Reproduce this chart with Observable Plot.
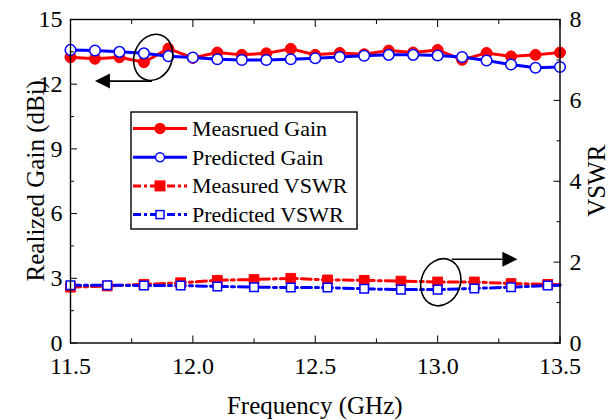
<!DOCTYPE html>
<html>
<head>
<meta charset="utf-8">
<script src="https://cdn.jsdelivr.net/npm/d3@7"></script>
<script src="https://cdn.jsdelivr.net/npm/@observablehq/plot@0.6"></script>
<style>
  body { margin: 0; background: #fff; }
  #chart svg { display: block; }
  #chart svg text { font-family: 'Liberation Serif', 'Times New Roman', serif; }
</style>
</head>
<body>
<div id="chart"></div>
<script>
// ---- data ----
const gainFreq = [11.5, 11.6, 11.7, 11.8, 11.9, 12.0, 12.1, 12.2, 12.3, 12.4, 12.5,
                  12.6, 12.7, 12.8, 12.9, 13.0, 13.1, 13.2, 13.3, 13.4, 13.5];
const measuredGain = [13.25, 13.18, 13.25, 13.02, 13.65, 13.22, 13.47, 13.36, 13.43, 13.64, 13.36,
                      13.45, 13.39, 13.56, 13.47, 13.59, 13.13, 13.45, 13.29, 13.36, 13.47];
const predictedGain = [13.59, 13.56, 13.5, 13.43, 13.3, 13.24, 13.16, 13.12, 13.12, 13.16, 13.2,
                       13.26, 13.32, 13.36, 13.36, 13.33, 13.26, 13.1, 12.91, 12.76, 12.8];

const vswrFreq = [11.5, 11.65, 11.8, 11.95, 12.1, 12.25, 12.4, 12.55, 12.7, 12.85, 13.0, 13.15, 13.3, 13.45, 13.5];
const measuredVSWR = [1.38, 1.41, 1.45, 1.49, 1.55, 1.57, 1.6, 1.56, 1.55, 1.53, 1.51, 1.51, 1.47, 1.45, 1.44];
const predictedVSWR = [1.43, 1.43, 1.42, 1.42, 1.40, 1.38, 1.37, 1.37, 1.34, 1.32, 1.32, 1.35, 1.38, 1.42, 1.43];
const vswrMarked = [true, true, true, true, true, true, true, true, true, true, true, true, true, true, false];

const xTicks = [11.5, 12.0, 12.5, 13.0, 13.5];
const xMinorTicks = [11.75, 12.25, 12.75, 13.25];
const gainTicks = [0, 3, 6, 9, 12, 15];
const gainMinorTicks = [1.5, 4.5, 7.5, 10.5, 13.5];
const vswrTicks = [0, 2, 4, 6, 8];
const vswrMinorTicks = [1, 3, 5, 7];

const seriesNames = ["Measrued Gain", "Predicted Gain", "Measured VSWR", "Predicted VSWR"];
const xTitle = "Frequency (GHz)";
const yTitle = "Realized Gain (dBi)";
const y2Title = "VSWR";

// annotation anchors (data units)
const ellipseGain = {x: 11.84, gain: 13.22};
const arrowGain = {x1: 11.835, x2: 11.602, gain: 12.12};
const ellipseVSWR = {x: 13.015, vswr: 1.49};
const arrowVSWR = {x1: 13.06, x2: 13.328, vswr: 2.06};

// ---- helpers ----
const gainMax = 15, vswrMax = 8;
const toGain = v => v * gainMax / vswrMax;
const RED = "#ff0000", BLUE = "#0000ff";

const gainRows = gainFreq.map((f, i) => ({f, m: measuredGain[i], p: predictedGain[i]}));
const vswrRows = vswrFreq.map((f, i) => ({f, m: toGain(measuredVSWR[i]), p: toGain(predictedVSWR[i]), mark: vswrMarked[i]}));
const vswrMarkedRows = vswrRows.filter(d => d.mark);

const FONT = "'Liberation Serif', 'Times New Roman', serif";
const blank = () => "";

const chart = Plot.plot({
  width: 609,
  height: 420,
  marginLeft: 70,
  marginRight: 49.5,
  marginTop: 19,
  marginBottom: 77.5,
  style: {fontFamily: FONT, fontSize: "24px", color: "#000", background: "#fff", overflow: "visible"},
  x: {domain: [11.5, 13.5]},
  y: {domain: [0, gainMax]},
  marks: [
    // VSWR lines
    Plot.line(vswrRows, {x: "f", y: "m", stroke: RED, strokeWidth: 3, strokeDasharray: "10,4,3,4"}),
    Plot.line(vswrRows, {x: "f", y: "p", stroke: BLUE, strokeWidth: 3, strokeDasharray: "10,4,3,4"}),
    Plot.dot(vswrMarkedRows, {x: "f", y: "m", symbol: "square", r: 5.5, fill: RED, stroke: RED, strokeWidth: 1}),
    Plot.dot(vswrMarkedRows, {x: "f", y: "p", symbol: "square", r: 4.8, fill: "#fff", stroke: BLUE, strokeWidth: 1.5}),
    // Gain lines
    Plot.line(gainRows, {x: "f", y: "m", stroke: RED, strokeWidth: 3}),
    Plot.line(gainRows, {x: "f", y: "p", stroke: BLUE, strokeWidth: 3}),
    Plot.dot(gainRows, {x: "f", y: "m", r: 5.5, fill: RED, stroke: RED, strokeWidth: 1}),
    Plot.dot(gainRows, {x: "f", y: "p", r: 5.3, fill: "#fff", stroke: BLUE, strokeWidth: 1.5}),
    // axes
    Plot.axisX(xTicks, {anchor: "bottom", tickSize: -7, tickPadding: 20.5, tickFormat: d3.format(".1f"), label: null, fontSize: 24, fontFamily: FONT}),
    Plot.axisX(xMinorTicks, {anchor: "bottom", tickSize: -4, tickFormat: blank, label: null}),
    Plot.axisX(xTicks, {anchor: "top", tickSize: -7, tickFormat: blank, label: null}),
    Plot.axisX(xMinorTicks, {anchor: "top", tickSize: -4, tickFormat: blank, label: null}),
    Plot.axisY(gainTicks, {anchor: "left", tickSize: -7, tickPadding: 15, tickFormat: d3.format("d"), label: null, fontSize: 24, fontFamily: FONT}),
    Plot.axisY(gainMinorTicks, {anchor: "left", tickSize: -4, tickFormat: blank, label: null}),
    Plot.axisY(vswrTicks.map(toGain), {anchor: "right", tickSize: -7, tickPadding: 16.5, tickFormat: d => d3.format("d")(Math.round(d * vswrMax / gainMax)), label: null, fontSize: 24, fontFamily: FONT}),
    Plot.axisY(vswrMinorTicks.map(toGain), {anchor: "right", tickSize: -4, tickFormat: blank, label: null}),
    Plot.frame({stroke: "#000", strokeWidth: 1.4})
  ]
});

document.getElementById("chart").appendChild(chart);

// ---- annotations, titles and legend drawn on top ----
const svg = d3.select(chart);
const sx = v => chart.scale("x").apply(v);
const sy = v => chart.scale("y").apply(v);
const W = 609, H = 420, mL = 70, mR = 49.5, mT = 19, mB = 77.5;
const cx = (mL + (W - mR)) / 2, cy = (mT + (H - mB)) / 2;

const ann = svg.append("g").attr("fill", "none").attr("stroke", "#000").attr("stroke-width", 1.6);
function ellipse(x, yGain, rx, ry, rot) {
  ann.append("ellipse")
    .attr("transform", `translate(${sx(x)},${sy(yGain)}) rotate(${rot})`)
    .attr("rx", rx).attr("ry", ry);
}
function arrow(x1, x2, yGain) {
  const y = sy(yGain), a = sx(x1), b = sx(x2);
  const dir = Math.sign(b - a);
  const head = 15, half = 7.5;
  ann.append("line").attr("x1", a).attr("x2", b - dir * head).attr("y1", y).attr("y2", y);
  ann.append("path")
    .attr("d", `M${b},${y}L${b - dir * head},${y - half}L${b - dir * head},${y + half}Z`)
    .attr("fill", "#000").attr("stroke", "none");
}
ellipse(ellipseGain.x, ellipseGain.gain, 19, 23.5, 20);
arrow(arrowGain.x1, arrowGain.x2, arrowGain.gain);
ellipse(ellipseVSWR.x, toGain(ellipseVSWR.vswr), 19.5, 24, 20);
arrow(arrowVSWR.x1, arrowVSWR.x2, toGain(arrowVSWR.vswr));

const titles = svg.append("g").attr("font-family", FONT).attr("font-size", 25).attr("fill", "#000").attr("text-anchor", "middle");
titles.append("text").attr("x", cx).attr("y", 414).text(xTitle);
titles.append("text").attr("transform", `translate(43.5,${cy}) rotate(-90)`).text(yTitle);
titles.append("text").attr("transform", `translate(605,${cy}) rotate(-90)`).text(y2Title);

// legend
const lg = svg.append("g").attr("font-family", FONT).attr("font-size", 22).attr("text-anchor", "start");
lg.append("rect").attr("x", 131).attr("y", 112).attr("width", 226).attr("height", 117)
  .attr("fill", "#fff").attr("stroke", "#000").attr("stroke-width", 1.4);
const legendStyles = [
  {color: RED, dash: null, shape: "circle", fill: RED},
  {color: BLUE, dash: null, shape: "circle", fill: "#fff"},
  {color: RED, dash: "8,3,3,3", shape: "square", fill: RED},
  {color: BLUE, dash: "8,3,3,3", shape: "square", fill: "#fff"}
];
seriesNames.forEach((name, i) => {
  const s = legendStyles[i];
  const y = 128.5 + i * 28.7;
  const line = lg.append("line").attr("x1", 133).attr("x2", 187).attr("y1", y).attr("y2", y)
    .attr("stroke", s.color).attr("stroke-width", 3);
  if (s.dash) line.attr("stroke-dasharray", s.dash);
  if (s.shape === "circle") {
    lg.append("circle").attr("cx", 160).attr("cy", y).attr("r", s.fill === "#fff" ? 4.5 : 5)
      .attr("fill", s.fill).attr("stroke", s.color).attr("stroke-width", 1.5);
  } else {
    const side = s.fill === "#fff" ? 8 : 9.5;
    lg.append("rect").attr("x", 160 - side / 2).attr("y", y - side / 2).attr("width", side).attr("height", side)
      .attr("fill", s.fill).attr("stroke", s.color).attr("stroke-width", 1.5);
  }
  lg.append("text").attr("x", 192).attr("y", y + 7.5).attr("fill", "#000").attr("text-anchor", "start").text(name);
});
</script>
</body>
</html>
